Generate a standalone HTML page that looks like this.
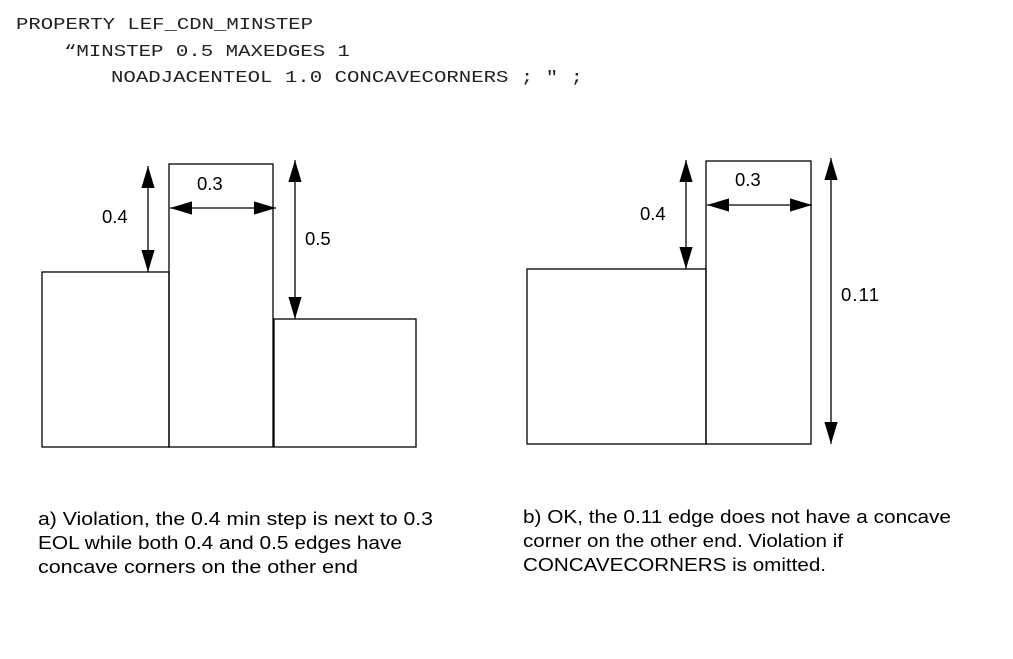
<!DOCTYPE html>
<html><head><meta charset="utf-8"><style>
body{margin:0;width:1013px;height:659px;background:#fff;overflow:hidden}
svg{display:block}
.m{font-family:"Liberation Mono",monospace;font-size:17px;fill:#222}
.s{font-family:"Liberation Sans",sans-serif;font-size:18px;fill:#000}
.l{font-family:"Liberation Sans",sans-serif;font-size:18.5px;fill:#000}
</style></head><body>
<svg width="1013" height="659" viewBox="0 0 1013 659">
<defs>
<marker id="b" viewBox="0 0 10 10" refX="10" refY="5" markerWidth="22" markerHeight="22" markerUnits="userSpaceOnUse" orient="auto-start-reverse"><path d="M0,2 L10,5 L0,8z" fill="#000"/></marker>
</defs>
<text class="m" x="16" y="29" textLength="297" lengthAdjust="spacingAndGlyphs">PROPERTY LEF_CDN_MINSTEP</text>
<text class="m" x="64" y="56" textLength="286" lengthAdjust="spacingAndGlyphs">“MINSTEP 0.5 MAXEDGES 1</text>
<text class="m" x="111" y="82" textLength="472" lengthAdjust="spacingAndGlyphs">NOADJACENTEOL 1.0 CONCAVECORNERS ; " ;</text>
<g fill="none" stroke="#000" stroke-width="1.3">
<rect x="42" y="272" width="127" height="175"/>
<rect x="169" y="164" width="104" height="283"/>
<rect x="274" y="319" width="142" height="128"/>
<rect x="527" y="269" width="179" height="175"/>
<rect x="706" y="161" width="105" height="283"/>
<line x1="148" y1="166" x2="148" y2="272" marker-start="url(#b)" marker-end="url(#b)"/>
<line x1="170" y1="208" x2="276" y2="208" marker-start="url(#b)" marker-end="url(#b)"/>
<line x1="295" y1="160" x2="295" y2="319" marker-start="url(#b)" marker-end="url(#b)"/>
<line x1="686" y1="160" x2="686" y2="269" marker-start="url(#b)" marker-end="url(#b)"/>
<line x1="707" y1="205" x2="812" y2="205" marker-start="url(#b)" marker-end="url(#b)"/>
<line x1="831" y1="158" x2="831" y2="444" marker-start="url(#b)" marker-end="url(#b)"/>
</g>
<text class="l" x="102" y="223">0.4</text>
<text class="l" x="197" y="190">0.3</text>
<text class="l" x="305" y="245">0.5</text>
<text class="l" x="640" y="220">0.4</text>
<text class="l" x="735" y="186">0.3</text>
<text class="l" x="841" y="301" textLength="38">0.11</text>
<text class="s" x="38" y="525" textLength="395" lengthAdjust="spacingAndGlyphs">a) Violation, the 0.4 min step is next to 0.3</text>
<text class="s" x="38" y="549" textLength="364" lengthAdjust="spacingAndGlyphs">EOL while both 0.4 and 0.5 edges have</text>
<text class="s" x="38" y="573" textLength="320" lengthAdjust="spacingAndGlyphs">concave corners on the other end</text>
<text class="s" x="523" y="523" textLength="428" lengthAdjust="spacingAndGlyphs">b) OK, the 0.11 edge does not have a concave</text>
<text class="s" x="523" y="547" textLength="320" lengthAdjust="spacingAndGlyphs">corner on the other end.  Violation if</text>
<text class="s" x="523" y="571" textLength="303" lengthAdjust="spacingAndGlyphs">CONCAVECORNERS is omitted.</text>
</svg>
</body></html>
